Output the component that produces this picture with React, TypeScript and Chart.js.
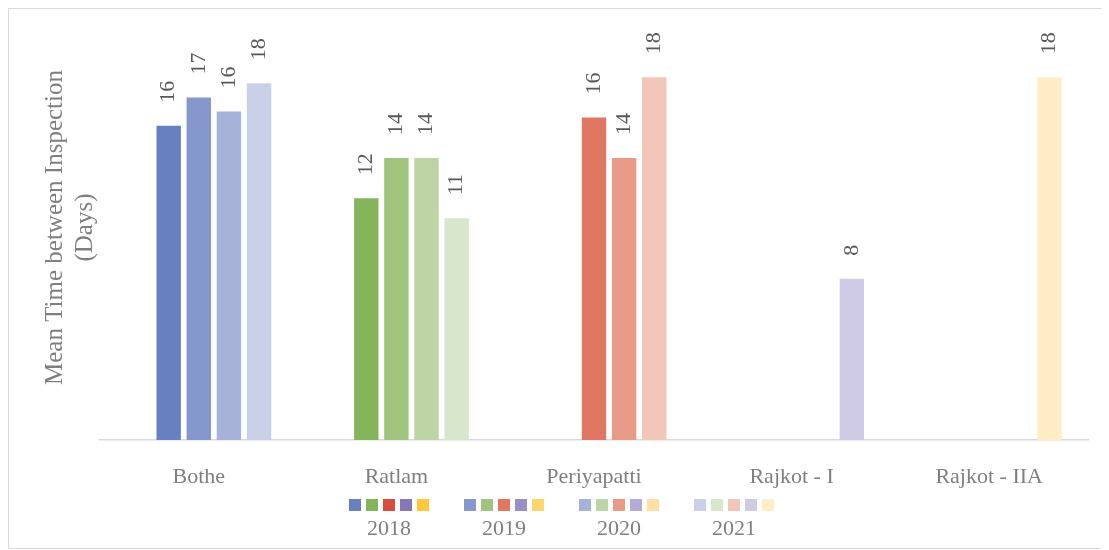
import React, { useEffect, useRef } from 'react';
import { Chart, registerables } from 'chart.js';

Chart.register(...registerables);

// Stations (categories) and inspection years (series)
const categories = ['Bothe', 'Ratlam', 'Periyapatti', 'Rajkot - I', 'Rajkot - IIA'];
const years = ['2018', '2019', '2020', '2021'];

// Mean time between inspections, in days, per station
const values2018 = [15.6, 12, null, null, null];
const values2019 = [17, 14, 16, null, null];
const values2020 = [16.3, 14, 14, null, null];
const values2021 = [17.7, 11, 18, 8, 18];
const seriesValues = [values2018, values2019, values2020, values2021];

// Each station has its own hue; the years run from dark to light
const bluePalette = ['#6680c0', '#8597cc', '#a6b2da', '#cad0e8'];
const greenPalette = ['#84b55c', '#a0c37e', '#bdd5a5', '#d8e6cb'];
const redPalette = ['#d94d3e', '#e07762', '#e89c88', '#f2c6b8'];
const purplePalette = ['#8676b6', '#9c8fc4', '#b4abd4', '#d0cbe4'];
const yellowPalette = ['#ffc83a', '#ffd56e', '#ffe0a0', '#ffedc6'];
const stationPalettes = [bluePalette, greenPalette, redPalette, purplePalette, yellowPalette];

const yTitleLines = ['Mean Time between Inspection', '(Days)'];

const FONT = '"Liberation Serif", "Times New Roman", serif';
const TEXT_GREY = '#7f7f7f';
const LABEL_GREY = '#595959';

const CANVAS_W = 1100;
const CANVAS_H = 539;

// Rotated value labels above each bar
const valueLabels = {
  id: 'valueLabels',
  afterDatasetsDraw(chart: any) {
    const ctx = chart.ctx;
    ctx.save();
    ctx.font = `22px ${FONT}`;
    ctx.fillStyle = LABEL_GREY;
    ctx.textAlign = 'left';
    ctx.textBaseline = 'middle';
    chart.data.datasets.forEach((ds: any, di: number) => {
      if (ds.spacer) return;
      const meta = chart.getDatasetMeta(di);
      meta.data.forEach((bar: any, i: number) => {
        const v = ds.data[i];
        if (v == null) return;
        ctx.save();
        ctx.translate(bar.x, bar.y - 23);
        ctx.rotate(-Math.PI / 2);
        ctx.fillText(String(Math.round(v)), 0, 0);
        ctx.restore();
      });
    });
    ctx.restore();
  },
};

// Two-line vertical axis title on the left
const yAxisTitle = {
  id: 'yAxisTitle',
  afterDraw(chart: any) {
    const ctx = chart.ctx;
    const area = chart.chartArea;
    ctx.save();
    ctx.font = `25px ${FONT}`;
    ctx.fillStyle = TEXT_GREY;
    ctx.textAlign = 'center';
    ctx.textBaseline = 'middle';
    const cy = (area.top + area.bottom) / 2 - 11;
    const lineGap = 30.5;
    yTitleLines.forEach((line, i) => {
      ctx.save();
      ctx.translate(46 + i * lineGap, cy);
      ctx.rotate(-Math.PI / 2);
      ctx.fillText(line, 0, 0);
      ctx.restore();
    });
    ctx.restore();
  },
};

// Legend: one row of station swatches per year, year label underneath
const yearLegend = {
  id: 'yearLegend',
  afterDraw(chart: any) {
    const ctx = chart.ctx;
    const box = 12;
    const pitch = 17;
    const groupPitch = 115;
    const groupW = pitch * (stationPalettes.length - 1) + box;
    const firstX = 340;
    const boxTop = 490;
    ctx.save();
    ctx.font = `22px ${FONT}`;
    ctx.textAlign = 'center';
    ctx.textBaseline = 'middle';
    years.forEach((year, yi) => {
      const gx = firstX + yi * groupPitch;
      stationPalettes.forEach((pal, si) => {
        ctx.fillStyle = pal[yi];
        ctx.fillRect(gx + si * pitch, boxTop, box, box);
      });
      ctx.fillStyle = TEXT_GREY;
      ctx.fillText(year, gx + groupW / 2, boxTop + 30);
    });
    ctx.restore();
  },
};

export default function App() {
  const canvasRef = useRef<HTMLCanvasElement | null>(null);

  useEffect(() => {
    const canvas = canvasRef.current;
    if (!canvas) return;

    // Leading empty series keeps the year bars in the right-hand slots of each group
    const spacer: any = {
      label: '',
      data: categories.map(() => null),
      backgroundColor: 'rgba(0,0,0,0)',
      spacer: true,
      categoryPercentage: 0.762,
      barPercentage: 0.81,
    };
    const yearSets = years.map((year, yi) => ({
      label: year,
      data: seriesValues[yi],
      backgroundColor: stationPalettes.map((p) => p[yi]),
      borderWidth: 0,
      categoryPercentage: 0.762,
      barPercentage: 0.81,
    }));

    const chart = new Chart(canvas, {
      type: 'bar',
      data: {
        labels: categories,
        datasets: [spacer, ...yearSets],
      },
      options: {
        animation: false,
        responsive: false,
        devicePixelRatio: 1,
        layout: { padding: { left: 91, right: 21, top: 28, bottom: 0 } },
        plugins: {
          legend: { display: false },
          tooltip: { enabled: false },
        },
        scales: {
          x: {
            grid: { display: false },
            border: { display: true, color: '#d9d9d9', width: 1.5 },
            ticks: {
              color: TEXT_GREY,
              font: { family: FONT, size: 22 },
              padding: 16,
              maxRotation: 0,
              autoSkip: false,
            },
            afterFit: (scale: any) => {
              scale.height = 108;
            },
          },
          y: {
            display: false,
            min: 0,
            max: 20,
          },
        },
      } as any,
      plugins: [valueLabels, yAxisTitle, yearLegend],
    });

    return () => chart.destroy();
  }, []);

  return (
    <div
      style={{
        width: 1101,
        height: 541,
        borderTop: '1px solid #d9d9d9',
        borderLeft: '1px solid #d9d9d9',
        borderBottom: '1px solid #d9d9d9',
        borderRight: 'none',
        boxSizing: 'border-box',
        background: '#ffffff',
      }}
    >
      <canvas
        ref={canvasRef}
        width={CANVAS_W}
        height={CANVAS_H}
        style={{ display: 'block', width: CANVAS_W, height: CANVAS_H }}
      />
    </div>
  );
}
